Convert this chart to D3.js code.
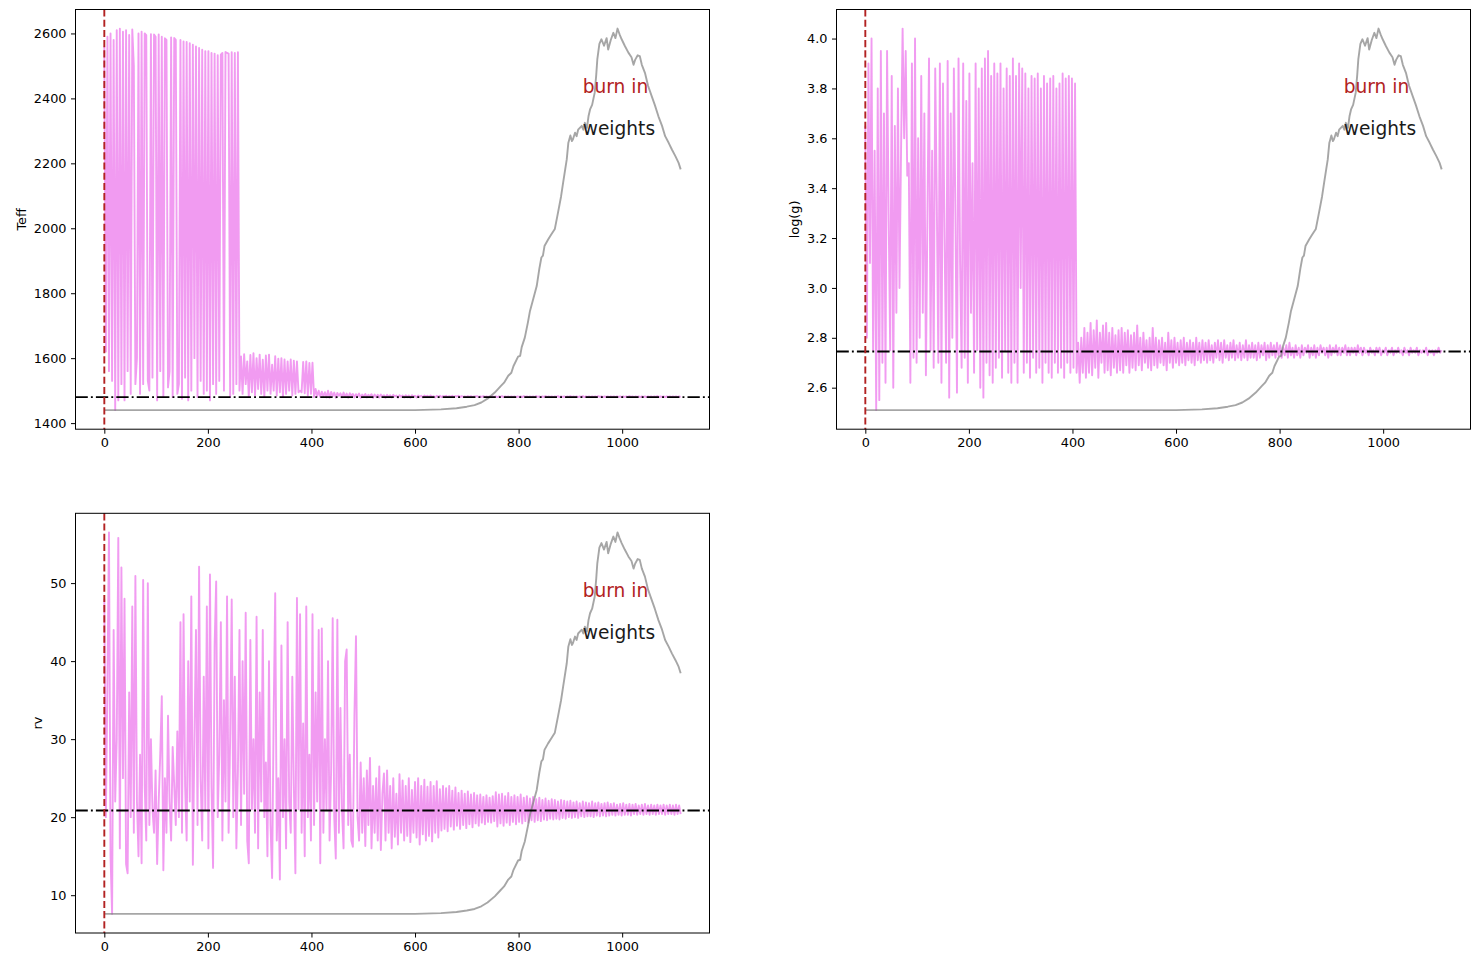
<!DOCTYPE html>
<html>
<head>
<meta charset="utf-8">
<script src="https://cdn.jsdelivr.net/npm/d3@7"></script>
<style>
  body { margin: 0; background: #fff; }
  svg { display: block; font-family: 'DejaVu Sans', sans-serif; }
</style>
</head>
<body>
<div id="chart"></div>
<script>
// chain samples, one value every `iterStep` iterations (12 per row = 36 iterations)
const iterStep = 3;

const teffTrace = [
  2560, 1620, 2590, 1560, 2600, 1530, 2580, 1440, 2610, 1470, 2615, 1520,
  2605, 1470, 2610, 1560, 2595, 1490, 2612, 2500, 1520, 1600, 2600, 1490,
  2605, 1520, 2600, 2595, 1530, 1500, 2598, 1540, 2597, 2590, 1470, 2597,
  1560, 2590, 1480, 2585, 2580, 1510, 1560, 2588, 1480, 2586, 2580, 1490,
  1520, 2580, 1475, 2575, 1540, 2574, 1470, 2570, 1500, 2565, 1600, 2560,
  1480, 2555, 1530, 2550, 1490, 2545, 1500, 2545, 1470, 2540, 1520, 2538,
  1490, 2533, 1530, 2535, 2540, 1500, 2543, 2540, 2538, 1480, 2542, 1490,
  2540, 1520, 2542, 1500, 1605, 1490, 1612, 1520, 1590, 1480, 1610, 1495,
  1615, 1485, 1600, 1505, 1611, 1490, 1595, 1480, 1608, 1500, 1611, 1490,
  1580, 1500, 1606, 1485, 1598, 1495, 1600, 1480, 1596, 1490, 1590, 1500,
  1596, 1485, 1592, 1490, 1590, 1495, 1500, 1495, 1588, 1492, 1590, 1485,
  1585, 1490, 1586, 1480, 1505, 1483, 1500, 1480, 1497, 1482, 1495, 1479,
  1500, 1478, 1496, 1483, 1494, 1478, 1493, 1484, 1492, 1479, 1494, 1480,
  1491, 1478, 1492, 1484, 1490, 1479, 1489, 1482, 1491, 1478, 1488, 1481,
  1490, 1479, 1487, 1483, 1489, 1478, 1488, 1480, 1487, 1479, 1488, 1482,
  1486, 1478, 1487, 1481, 1486, 1479, 1487, 1482, 1485, 1478, 1486, 1481,
  1485, 1479, 1486, 1480, 1485, 1478, 1486, 1482, 1484, 1479, 1485, 1481,
  1484, 1479, 1485, 1482, 1484, 1480, 1485, 1481, 1483, 1479, 1484, 1481,
  1484, 1480, 1483, 1482, 1484, 1480, 1483, 1481, 1484, 1480, 1483, 1482,
  1484, 1480, 1483, 1481, 1482, 1480, 1483, 1481, 1483, 1480, 1482, 1482,
  1483, 1480, 1482, 1481, 1483, 1480, 1482, 1481, 1482, 1480, 1482, 1481,
  1482, 1480, 1482, 1481, 1483, 1480, 1482, 1481, 1482, 1480, 1482, 1481,
  1482, 1480, 1482, 1481, 1482, 1480, 1483, 1481, 1482, 1480, 1482, 1481,
  1482, 1480, 1483, 1481, 1482, 1480, 1482, 1481, 1483, 1480, 1482, 1481,
  1482, 1480, 1482, 1481, 1483, 1480, 1482, 1481, 1482, 1480, 1482, 1481,
  1483, 1480, 1482, 1481, 1482, 1480, 1482, 1481, 1483, 1480, 1482, 1481,
  1482, 1480, 1482, 1481, 1482, 1480, 1483, 1481, 1482, 1480, 1482, 1481,
  1482, 1480, 1482, 1481, 1482, 1480, 1482, 1481, 1482, 1480, 1482, 1481,
  1482, 1480, 1483, 1481, 1482, 1480, 1482, 1481, 1482, 1480, 1482, 1481,
  1482, 1480, 1482, 1481, 1482, 1480, 1482, 1481, 1483, 1480, 1482, 1481,
  1482, 1480, 1482, 1481, 1482, 1480, 1482, 1481, 1482, 1480, 1482, 1481
];

const loggTrace = [
  3.65, 2.80, 3.90, 3.10, 4.00, 2.75, 3.55, 2.51, 3.80, 2.55, 3.95, 2.70,
  3.70, 2.62, 3.95, 3.30, 2.75, 3.85, 2.60, 3.65, 2.90, 3.80, 3.00, 3.55,
  4.04, 3.60, 3.95, 3.45, 3.50, 2.62, 3.90, 2.72, 4.00, 2.70, 3.60, 2.80,
  3.85, 2.90, 3.70, 2.65, 3.30, 3.92, 2.75, 3.55, 2.68, 3.88, 3.35, 2.70,
  3.90, 2.62, 3.82, 3.20, 2.70, 3.91, 2.56, 3.70, 2.80, 3.88, 3.30, 2.58,
  3.92, 3.10, 2.68, 3.90, 2.72, 3.75, 2.62, 3.86, 2.90, 3.50, 2.66, 3.90,
  2.75, 3.80, 2.60, 3.88, 2.56, 3.92, 2.70, 3.95, 2.65, 3.85, 2.62, 3.90,
  2.68, 3.86, 2.72, 3.90, 2.64, 3.80, 2.75, 3.88, 2.66, 3.85, 2.62, 3.92,
  2.70, 3.85, 2.62, 3.90, 3.00, 3.88, 2.66, 3.86, 2.70, 3.80, 2.64, 3.85,
  2.72, 3.84, 2.66, 3.86, 2.68, 3.80, 2.62, 3.85, 2.70, 3.82, 2.66, 3.84,
  2.64, 3.85, 2.70, 3.80, 2.66, 3.82, 2.68, 3.86, 2.64, 3.84, 2.70, 3.85,
  2.66, 3.84, 2.68, 3.82, 2.66, 2.78, 2.62, 2.80, 2.66, 2.84, 2.64, 2.82,
  2.66, 2.86, 2.65, 2.83, 2.68, 2.87, 2.64, 2.82, 2.70, 2.85, 2.66, 2.86,
  2.67, 2.82, 2.65, 2.84, 2.68, 2.81, 2.66, 2.83, 2.67, 2.84, 2.66, 2.82,
  2.69, 2.83, 2.66, 2.81, 2.68, 2.82, 2.67, 2.85, 2.69, 2.80, 2.67, 2.82,
  2.70, 2.79, 2.68, 2.80, 2.67, 2.84, 2.69, 2.80, 2.68, 2.79, 2.70, 2.80,
  2.69, 2.78, 2.67, 2.82, 2.70, 2.79, 2.68, 2.80, 2.70, 2.78, 2.69, 2.79,
  2.70, 2.80, 2.69, 2.78, 2.71, 2.79, 2.70, 2.78, 2.69, 2.80, 2.71, 2.78,
  2.70, 2.79, 2.71, 2.78, 2.70, 2.79, 2.71, 2.77, 2.70, 2.78, 2.72, 2.79,
  2.71, 2.78, 2.70, 2.79, 2.72, 2.77, 2.71, 2.78, 2.72, 2.79, 2.71, 2.77,
  2.72, 2.78, 2.71, 2.77, 2.72, 2.79, 2.71, 2.77, 2.72, 2.78, 2.72, 2.77,
  2.71, 2.78, 2.72, 2.77, 2.73, 2.78, 2.71, 2.77, 2.72, 2.78, 2.73, 2.77,
  2.72, 2.78, 2.73, 2.77, 2.72, 2.76, 2.73, 2.77, 2.72, 2.78, 2.73, 2.76,
  2.72, 2.77, 2.73, 2.76, 2.72, 2.77, 2.73, 2.76, 2.74, 2.77, 2.72, 2.76,
  2.73, 2.77, 2.72, 2.76, 2.73, 2.77, 2.74, 2.76, 2.73, 2.76, 2.72, 2.77,
  2.73, 2.76, 2.74, 2.77, 2.73, 2.76, 2.73, 2.76, 2.74, 2.77, 2.73, 2.76,
  2.73, 2.76, 2.74, 2.76, 2.73, 2.77, 2.74, 2.76, 2.73, 2.76, 2.74, 2.75,
  2.73, 2.76, 2.74, 2.75, 2.73, 2.76, 2.74, 2.76, 2.73, 2.75, 2.74, 2.76,
  2.73, 2.75, 2.74, 2.76, 2.73, 2.75, 2.74, 2.76, 2.74, 2.75, 2.73, 2.76,
  2.74, 2.75, 2.73, 2.76, 2.74, 2.75, 2.74, 2.76, 2.73, 2.75, 2.74, 2.75,
  2.74, 2.76, 2.73, 2.75, 2.74, 2.75, 2.73, 2.75, 2.74, 2.76, 2.74, 2.75
];

const rvTrace = [
  48, 20, 37, 56.5, 15, 7.6, 44, 22, 30, 55.8, 16, 52,
  25, 48, 14, 12.8, 36, 20, 47, 18, 50.9, 22, 15, 28,
  14.1, 50.4, 24, 17, 50, 19, 30, 21, 18, 26, 14, 22,
  28, 35.5, 13.2, 25, 18, 33, 22, 17, 29, 24, 19, 31,
  20, 45, 18, 46, 24, 17, 40, 22, 48.3, 13.9, 30, 44,
  19, 52.1, 25, 17, 38, 21, 47, 16, 51.1, 24, 13.5, 42,
  50.2, 20, 28, 45, 17, 35, 22, 48.3, 18, 30, 47.9, 20,
  38, 16, 26, 44, 19, 40, 23, 46.2, 17, 14.1, 42.7, 21,
  30, 18, 45.7, 16, 36, 22, 44, 20, 27, 15, 40, 19,
  12.2, 33, 48.7, 17, 25, 12, 42, 20, 30, 16, 45, 22,
  18, 38, 24, 12.8, 48.1, 21, 46, 18, 32, 15, 47, 20,
  28, 17, 46, 19, 36, 22, 44, 14.1, 44.2, 18, 30, 21,
  40, 17, 26, 45.5, 20, 14.7, 45.3, 18, 34, 21, 16, 40,
  41.5, 19, 28, 17, 16.2, 33, 43.2, 20, 17, 27, 18, 25,
  16.3, 26, 19, 27.6, 16, 24, 18, 25, 17, 26.5, 15.8, 23,
  25.6, 17, 26, 18, 24, 16, 25, 17.5, 23, 16.5, 25.5, 18,
  24.7, 17, 24, 17.6, 25, 16.8, 23.5, 18, 24.5, 17.4, 25, 16.5,
  24, 17.8, 24.8, 17, 23.9, 17.6, 24.5, 16.9, 24, 18, 24.6, 17.4,
  23.6, 18.3, 24, 18.5, 23.7, 18.2, 24, 18.8, 23.4, 18.4, 23.8, 18.9,
  23.1, 18.5, 23.4, 19, 23, 18.6, 23.3, 19.1, 22.9, 18.7, 23.1, 19.2,
  22.8, 18.9, 22.9, 19.3, 22.6, 19.1, 22.8, 19.4, 22.5, 19.3, 22.7, 19.5,
  23.2, 18.8, 22.9, 19.2, 23, 18.9, 22.7, 19.3, 23.1, 19, 22.6, 19.4,
  22.8, 19.1, 22.6, 19.4, 22.9, 19.2, 22.5, 19.5, 22.7, 19.3, 22.4, 19.6,
  22.6, 19.4, 22.3, 19.6, 22.5, 19.5, 22.2, 19.7, 22.4, 19.6, 22.1, 19.8,
  22.3, 19.7, 22.2, 19.8, 22.0, 19.7, 22.2, 19.9, 22.1, 19.8, 22.0, 20.0,
  22.1, 19.9, 21.9, 20.0, 22.0, 19.9, 21.8, 20.1, 22.0, 20.0, 21.9, 20.1,
  21.8, 20.1, 22.0, 20.0, 21.8, 20.2, 21.9, 20.1, 21.7, 20.2, 21.8, 20.1,
  21.9, 20.2, 21.7, 20.3, 21.8, 20.2, 21.6, 20.3, 21.7, 20.2, 21.8, 20.3,
  21.6, 20.3, 21.7, 20.2, 21.6, 20.4, 21.7, 20.3, 21.5, 20.4, 21.6, 20.3,
  21.7, 20.4, 21.5, 20.3, 21.6, 20.4, 21.5, 20.3, 21.6, 20.4, 21.5, 20.4,
  21.6, 20.3, 21.5, 20.4, 21.6, 20.4, 21.5, 20.3, 21.6, 20.4, 21.5, 20.4
];

// weights curve, normalised to 0..1, read at irregular iterations
const weightIter = [0, 600, 650, 680, 700, 715, 728, 740, 754, 765, 772, 780, 786, 790, 799, 803, 806, 812, 818, 822,
  828, 835, 840, 844, 847, 850, 857, 863, 870, 876, 882, 886, 893, 896, 900, 903, 905, 909, 912, 915,
  922, 925, 928, 932, 935, 938, 942, 947, 950, 952, 956, 960, 965, 970, 973, 978, 983, 987, 991, 995,
  999, 1005, 1012, 1018, 1022, 1025, 1030, 1034, 1038, 1044, 1050, 1057, 1063, 1070, 1077, 1083, 1090, 1096, 1103, 1109, 1113];
const weightVal = [0, 0, 0.002, 0.005, 0.009, 0.013, 0.02, 0.03, 0.046, 0.062, 0.072, 0.09, 0.098, 0.115, 0.14, 0.142, 0.165, 0.19, 0.23, 0.26,
  0.29, 0.325, 0.37, 0.40, 0.405, 0.43, 0.447, 0.46, 0.475, 0.517, 0.56, 0.596, 0.657, 0.70, 0.72, 0.705, 0.71, 0.727, 0.718, 0.735,
  0.745, 0.735, 0.753, 0.74, 0.77, 0.788, 0.80, 0.832, 0.88, 0.919, 0.96, 0.972, 0.955, 0.975, 0.945, 0.97, 0.989, 0.975, 1.0, 0.985,
  0.972, 0.955, 0.937, 0.925, 0.905, 0.918, 0.93, 0.928, 0.905, 0.884, 0.85, 0.823, 0.80, 0.77, 0.745, 0.718, 0.70, 0.683, 0.665, 0.648, 0.631];

const paramNames = ['Teff', 'log(g)', 'rv'];
const bestValues = [1480, 2.745, 20.85];
const burnIn = 0;
const xTicks = [0, 200, 400, 600, 800, 1000];
const teffTicks = [1400, 1600, 1800, 2000, 2200, 2400, 2600];
const loggTicks = [2.6, 2.8, 3.0, 3.2, 3.4, 3.6, 3.8, 4.0];
const rvTicks = [10, 20, 30, 40, 50];

const width = 1479, height = 967;
const axW = 634, axH = 419.7;
const fontTick = 12.85, fontText = 18.6;

const svg = d3.select('#chart').append('svg')
  .attr('width', width)
  .attr('height', height);
svg.append('rect').attr('width', width).attr('height', height).attr('fill', '#fff');

const panels = [
  { left: 75.5, top: 9.5, trace: teffTrace, ticks: teffTicks, fmt: d3.format('d') },
  { left: 836.5, top: 9.5, trace: loggTrace, ticks: loggTicks, fmt: d3.format('.1f') },
  { left: 75.5, top: 513.3, trace: rvTrace, ticks: rvTicks, fmt: d3.format('d') }
];

// matplotlib-like 5% margins
function padded(lo, hi) {
  const m = (hi - lo) * 0.05;
  return [lo - m, hi + m];
}

panels.forEach((p, k) => {
  const g = svg.append('g').attr('transform', `translate(${p.left},${p.top})`);

  const iters = p.trace.map((d, i) => i * iterStep);
  const x = d3.scaleLinear().domain(padded(0, d3.max(iters))).range([0, axW]);
  const [ymin, ymax] = d3.extent(p.trace);
  const y = d3.scaleLinear().domain(padded(ymin, ymax)).range([axH, 0]);

  // chain trace
  g.append('path')
    .datum(p.trace)
    .attr('fill', 'none')
    .attr('stroke', 'violet')
    .attr('stroke-opacity', 0.8)
    .attr('stroke-width', 1.9)
    .attr('stroke-linejoin', 'round')
    .attr('d', d3.line().x((d, i) => x(iters[i])).y(d => y(d)));

  // weights, rescaled to the trace range
  g.append('path')
    .datum(weightVal)
    .attr('fill', 'none')
    .attr('stroke', 'grey')
    .attr('stroke-opacity', 0.7)
    .attr('stroke-width', 1.9)
    .attr('stroke-linejoin', 'round')
    .attr('d', d3.line().x((d, i) => x(weightIter[i])).y(d => y(ymin + d * (ymax - ymin))));

  // best value
  g.append('line')
    .attr('x1', 0).attr('x2', axW)
    .attr('y1', y(bestValues[k])).attr('y2', y(bestValues[k]))
    .attr('stroke', '#000')
    .attr('stroke-width', 1.9)
    .attr('stroke-dasharray', '12.3,3.1,1.9,3.1');

  // burn in marker
  g.append('line')
    .attr('x1', x(burnIn)).attr('x2', x(burnIn))
    .attr('y1', 0).attr('y2', axH)
    .attr('stroke', 'firebrick')
    .attr('stroke-width', 1.9)
    .attr('stroke-dasharray', '7.1,3.1');

  g.append('text')
    .attr('x', axW * 0.8).attr('y', axH * 0.2)
    .attr('fill', 'firebrick')
    .style('font-size', fontText + 'px')
    .text('burn in');
  g.append('text')
    .attr('x', axW * 0.8).attr('y', axH * 0.3)
    .attr('fill', '#1a1a1a')
    .style('font-size', fontText + 'px')
    .text('weights');

  // axes
  const xAxis = g.append('g')
    .attr('transform', `translate(0,${axH})`)
    .call(d3.axisBottom(x).tickValues(xTicks).tickSize(4.5).tickPadding(4.5).tickFormat(d3.format('d')));
  const yAxis = g.append('g')
    .call(d3.axisLeft(y).tickValues(p.ticks).tickSize(4.5).tickPadding(4.5).tickFormat(p.fmt));

  [xAxis, yAxis].forEach(a => {
    a.select('.domain').remove();
    a.selectAll('line').attr('stroke', '#000').attr('stroke-width', 1);
    a.selectAll('text')
      .attr('fill', '#000')
      .style('font-family', 'DejaVu Sans, sans-serif')
      .style('font-size', fontTick + 'px');
  });

  g.append('rect')
    .attr('width', axW).attr('height', axH)
    .attr('fill', 'none')
    .attr('stroke', '#000')
    .attr('stroke-width', 1);

  // y label placed left of the tick labels
  const bb = yAxis.node().getBBox();
  g.append('text')
    .attr('transform', `translate(${bb.x - 8},${axH / 2}) rotate(-90)`)
    .attr('text-anchor', 'middle')
    .style('font-size', fontTick + 'px')
    .text(paramNames[k]);
});
</script>
</body>
</html>
